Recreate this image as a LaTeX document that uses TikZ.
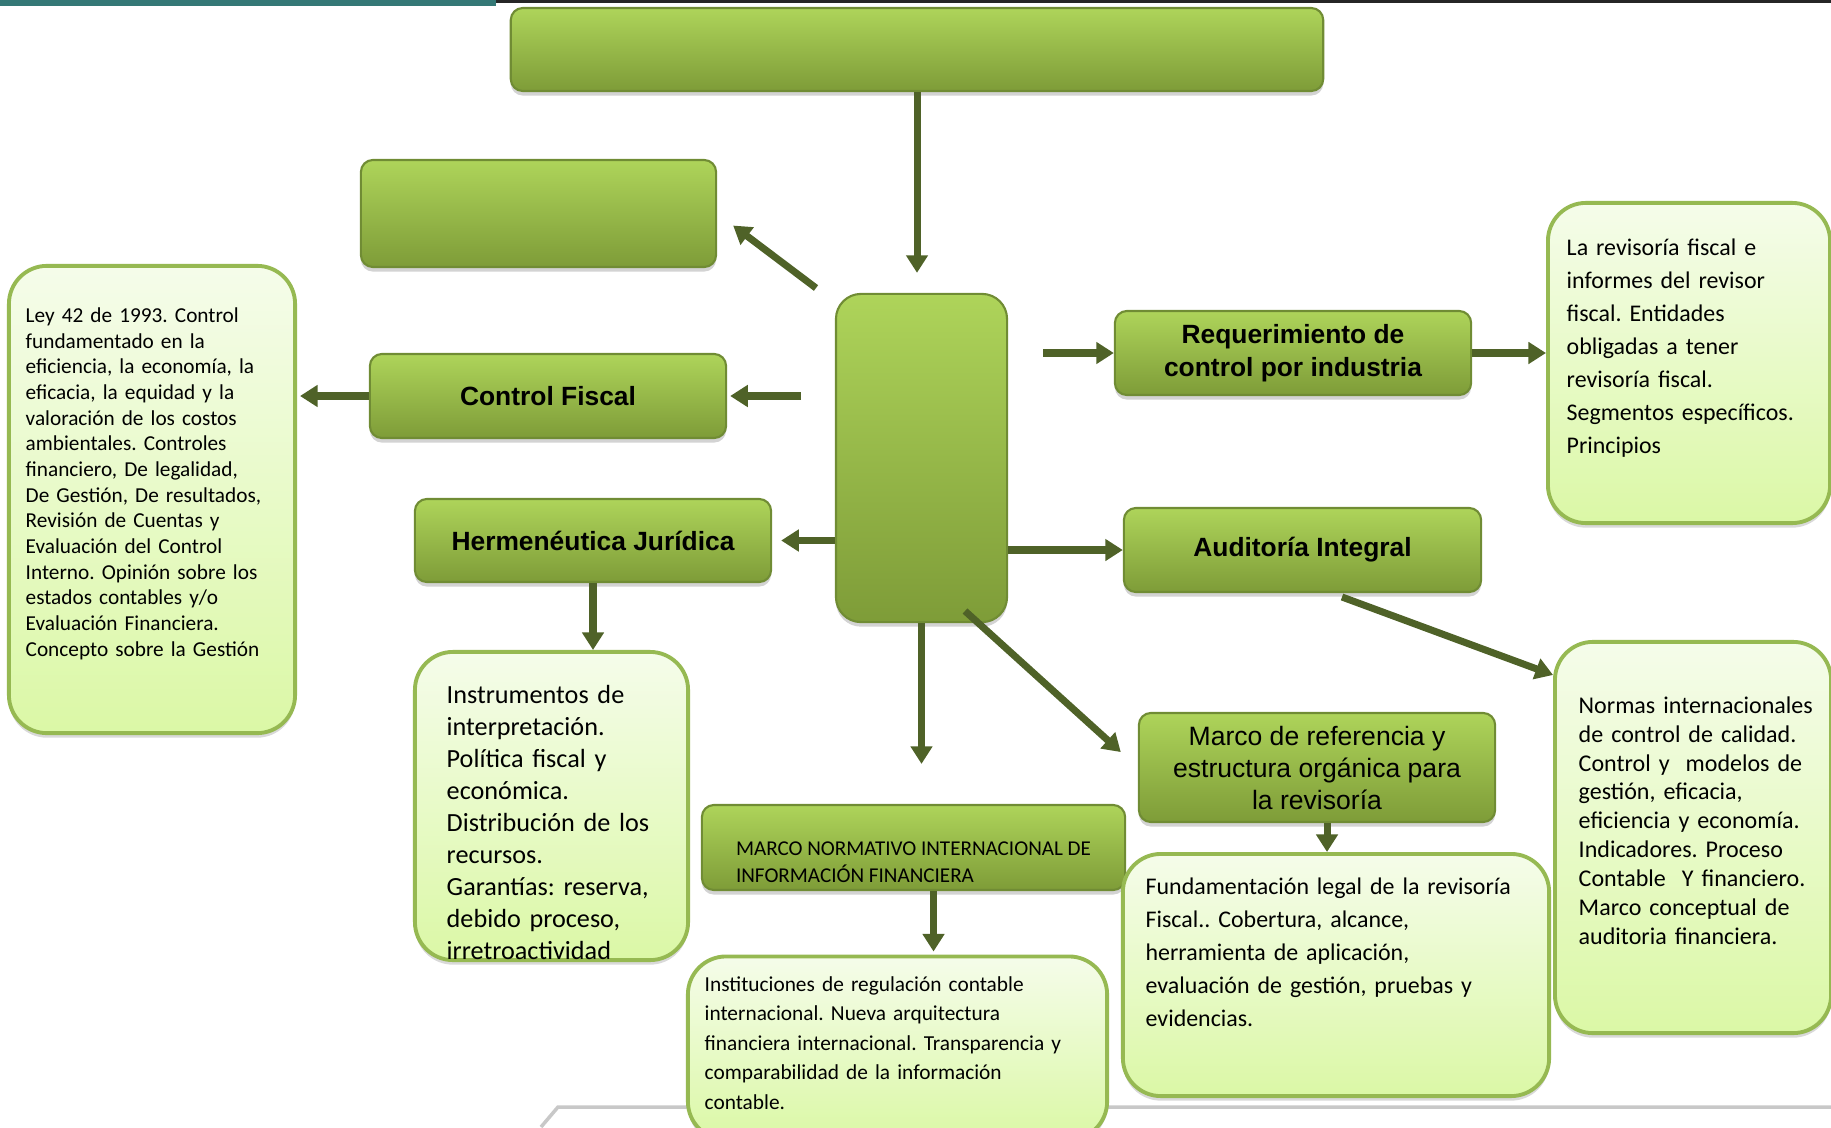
\documentclass[tikz,border=0pt]{standalone}
\usepackage{fontspec}
\setmainfont{Carlito}
\newfontfamily\arialfont{Liberation Sans}
\usetikzlibrary{arrows.meta,shadows}
\frenchspacing

\definecolor{gtop}{RGB}{174,212,90}
\definecolor{gbot}{RGB}{126,156,56}
\definecolor{gedge}{RGB}{112,140,52}
\definecolor{ttop}{RGB}{245,252,234}
\definecolor{tbot}{RGB}{219,248,166}
\definecolor{tedge}{RGB}{150,185,82}
\definecolor{flecha}{RGB}{79,98,40}
\definecolor{topteal}{RGB}{52,120,118}
\definecolor{rulegray}{RGB}{200,200,200}

\tikzset{
  gbox/.style={rectangle, rounded corners=0.12cm, draw=gedge, line width=0.6pt,
    top color=gtop, bottom color=gbot, inner sep=2pt, align=center,
    drop shadow={shadow xshift=0pt, shadow yshift=-1.3pt, opacity=0.35}},
  tbox/.style={rectangle, rounded corners=0.38cm, draw=tedge, line width=1.1pt,
    top color=ttop, bottom color=tbot,
    drop shadow={shadow xshift=0pt, shadow yshift=-1.3pt, opacity=0.3}},
  ttext/.style={anchor=north west, inner sep=0pt, align=left},
  titulo/.style={font=\arialfont\bfseries\fontsize{7.5}{9.3}\selectfont},
  arr/.style={draw=flecha, line width=2pt, -{Triangle[width=6pt,length=5pt]}}
}

\begin{document}
\begin{tikzpicture}[x=0.01cm,y=-0.01cm]
\useasboundingbox (0,0) rectangle (1831,1127);
% page edges
\fill[topteal] (0,0) rectangle (496,6);
\fill[black!85] (496,0) rectangle (1831,3);
\draw[rulegray, line width=1pt] (541,1127) -- (558,1107) -- (1831,1107);

% green boxes
\node[gbox, minimum width=8.12cm, minimum height=0.83cm] (cabeza) at (917,49.5) {};
\node[gbox, minimum width=3.55cm, minimum height=1.07cm] (vacio) at (538.5,213.5) {};
\node[gbox, titulo, minimum width=3.56cm, minimum height=0.84cm] (cfiscal) at (548,396) {Control Fiscal};
\node[gbox, titulo, minimum width=3.56cm, minimum height=0.83cm] (herm) at (593,540.5) {Hermenéutica Jurídica};
\node[gbox, rounded corners=0.25cm, minimum width=1.71cm, minimum height=3.28cm] (centro) at (921.5,458) {};
\node[gbox, titulo, minimum width=3.56cm, minimum height=0.84cm] (req) at (1293,353) {Requerimiento de\\control por industria};
\node[gbox, titulo, minimum width=3.57cm, minimum height=0.84cm] (aud) at (1302.5,550) {Auditoría Integral};
\node[gbox, font=\arialfont\fontsize{7.55}{9.1}\selectfont, minimum width=3.56cm, minimum height=1.09cm] (mref) at (1317,767.5) {Marco de referencia y\\estructura orgánica para\\la revisoría};
\node[gbox, font=\fontsize{6}{7.7}\selectfont, align=left, minimum width=4.23cm, minimum height=0.85cm] (mnorm) at (913.5,847.5) {\rule{0pt}{12pt}MARCO NORMATIVO INTERNACIONAL DE\\INFORMACIÓN FINANCIERA};

% text boxes
\node[tbox, minimum width=2.86cm, minimum height=4.67cm] (ley) at (152,499.5) {};
\node[tbox, minimum width=2.73cm, minimum height=3.08cm] (instr) at (551.5,806) {};
\node[tbox, minimum width=4.19cm, minimum height=1.83cm] (instit) at (897.5,1048) {};
\node[tbox, minimum width=4.26cm, minimum height=2.42cm] (fund) at (1336,975) {};
\node[tbox, minimum width=2.82cm, minimum height=3.20cm] (revf) at (1689,363) {};
\node[tbox, minimum width=2.76cm, minimum height=3.91cm] (normas) at (1693,837.5) {};

\node[ttext, text width=2.6cm, font=\fontsize{6.05}{7.3}\selectfont] (leyt) at ([xshift=0.18cm,yshift=-0.43cm]ley.north west)
  {Ley 42 de 1993. Control\\fundamentado en la\\eficiencia, la economía, la\\eficacia, la equidad y la\\valoración de los costos\\ambientales. Controles\\financiero, De legalidad,\\De Gestión, De resultados,\\Revisión de Cuentas y\\Evaluación del Control\\Interno. Opinión sobre los\\estados contables y/o\\Evaluación Financiera.\\Concepto sobre la Gestión};
\node[ttext, text width=2.3cm, font=\fontsize{7.45}{9.1}\selectfont] (instrt) at ([xshift=0.33cm,yshift=-0.35cm]instr.north west)
  {Instrumentos de\\interpretación.\\Política fiscal y\\económica.\\Distribución de los\\recursos.\\Garantías: reserva,\\debido proceso,\\irretroactividad};
\node[ttext, text width=3.9cm, font=\fontsize{6.07}{8.4}\selectfont] (institt) at ([xshift=0.18cm,yshift=-0.21cm]instit.north west)
  {Instituciones de regulación contable\\internacional. Nueva arquitectura\\financiera internacional. Transparencia y\\comparabilidad de la información\\contable.};
\node[ttext, text width=3.9cm, font=\fontsize{6.8}{9.4}\selectfont] (fundt) at ([xshift=0.24cm,yshift=-0.25cm]fund.north west)
  {Fundamentación legal de la revisoría\\Fiscal.. Cobertura, alcance,\\herramienta de aplicación,\\evaluación de gestión, pruebas y\\evidencias.};
\node[ttext, text width=2.55cm, font=\fontsize{6.8}{9.4}\selectfont] (revft) at ([xshift=0.2cm,yshift=-0.37cm]revf.north west)
  {La revisoría fiscal e\\informes del revisor\\fiscal. Entidades\\obligadas a tener\\revisoría fiscal.\\Segmentos específicos.\\Principios};
\node[ttext, text width=2.5cm, font=\fontsize{6.83}{8.2}\selectfont] (normast) at ([xshift=0.25cm,yshift=-0.56cm]normas.north west)
  {Normas internacionales\\de control de calidad.\\Control y\ \ modelos de\\gestión, eficacia,\\eficiencia y economía.\\Indicadores. Proceso\\Contable\ \ Y financiero.\\Marco conceptual de\\auditoria financiera.};

% arrows
\coordinate (c2) at (816,288);
\coordinate (c3) at (801,396);
\coordinate (c8) at (965,611);
\coordinate (c10) at (1043,353);
\coordinate (c12) at (1342,597);

\draw[arr, shorten >=0.2cm] (cabeza.south) -- (cabeza.south |- centro.north);
\draw[arr, shorten >=0.2cm] (c2) -- (vacio.east);
\draw[arr, shorten >=0.03cm] (c3) -- (cfiscal.east);
\draw[arr, shorten >=0.03cm] (cfiscal.west) -- (cfiscal.west -| ley.east);
\draw[arr, shorten >=0.09cm] (centro.west |- herm.east) -- (herm.east);
\draw[arr] (herm.south) -- (herm.south |- instr.north);
\draw[arr, shorten >=0.4cm] (centro.south) -- (centro.south |- mnorm.north);
\draw[arr, shorten >=0.23cm] (c8) -- (mref.west);
\draw[arr] (centro.east |- aud.west) -- (aud.west);
\draw[arr] (c10) -- (req.west);
\draw[arr] (req.east) -- (req.east -| revf.west);
\draw[arr] (c12) -- ([yshift=-0.35cm]normas.north west);
\draw[arr] ([xshift=0.1cm]mref.south) -- ([xshift=0.1cm]mref.south |- fund.north);
\draw[arr, shorten >=0.03cm] ([xshift=0.2cm]mnorm.south) -- ([xshift=0.2cm]mnorm.south |- instit.north);
\end{tikzpicture}
\end{document}
